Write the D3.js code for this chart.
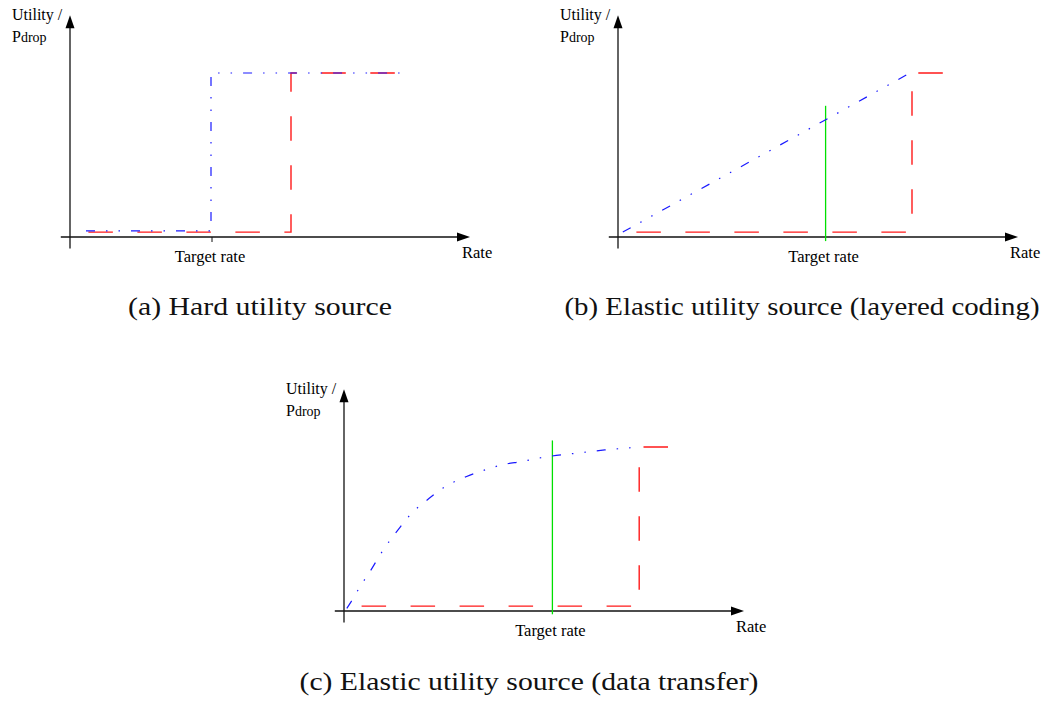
<!DOCTYPE html>
<html>
<head>
<meta charset="utf-8">
<script src="https://cdn.jsdelivr.net/npm/d3@7"></script>
<style>
  html, body { margin: 0; padding: 0; background: #fff; }
  svg { display: block; }
</style>
</head>
<body>
<svg id="chart" width="1053" height="701"></svg>
<script>
// ---- data (rate in arbitrary units 0..10, utility / drop probability 0..1) ----
const captions = [
  "(a) Hard utility source",
  "(b) Elastic utility source (layered coding)",
  "(c) Elastic utility source (data transfer)"
];
const axisYLabel = ["Utility /", "P", "drop"];
const axisXLabel = "Rate";
const targetLabel = "Target rate";
const targetRates = [3.55, 5.19, 5.21];

// utility curves (blue)
const utilityHard = [[0.4, 0.037], [3.525, 0.037], [3.525, 1.0], [8.42, 1.0]];
const utilityLayered = [[0.12, 0.03], [7.3, 1.0]];
const utilityTransfer = [
  [0.07, 0.016], [0.22, 0.073], [0.4, 0.148], [0.63, 0.233], [0.98, 0.372],
  [1.38, 0.504], [1.65, 0.585], [2.13, 0.687], [2.4, 0.738], [3.05, 0.819],
  [3.4, 0.85], [4.04, 0.896], [4.4, 0.91], [5.08, 0.941], [5.84, 0.963],
  [6.52, 0.982], [7.2, 0.996]
];

// drop probability step curves (red), from the high end down to low rates
const dropHard = [[8.12, 1.0], [5.525, 1.0], [5.525, 0.03], [0.4, 0.03]];
const dropLayered = [[8.12, 1.0], [7.35, 1.0], [7.35, 0.03], [0.375, 0.03]];
const dropTransfer = [[8.1, 1.0], [7.38, 1.0], [7.38, 0.03], [0.375, 0.03]];

// vertical target-rate markers (green), bottom/top in utility units
const markerLayered = [-0.025, 0.8];
const markerTransfer = [-0.02, 1.04];

// ---- layout ----
const panelOrigins = [[70, 237], [618, 237], [344, 611]];
const captionPos = [[260, 315, 264], [802, 315, 475], [529, 690, 459]];
const plotW = 400, plotH = 164;
const labelFont = "Liberation Serif";
const captionFont = "Liberation Serif";

const svg = d3.select("#chart");

const panels = [
  { utility: utilityHard, drop: dropHard, marker: null, tick: true, curve: d3.curveLinear },
  { utility: utilityLayered, drop: dropLayered, marker: markerLayered, tick: false, curve: d3.curveLinear },
  { utility: utilityTransfer, drop: dropTransfer, marker: markerTransfer, tick: false, curve: d3.curveMonotoneX }
];

panels.forEach((p, i) => {
  const [ox, oy] = panelOrigins[i];
  const x = d3.scaleLinear().domain([0, 10]).range([ox, ox + plotW]);
  const y = d3.scaleLinear().domain([0, 1]).range([oy, oy - plotH]);
  const g = svg.append("g");

  // axes with arrowheads
  const xTip = x(10), yTip = y(1.352);
  g.append("line").attr("x1", x(-0.23)).attr("x2", xTip - 6).attr("y1", oy).attr("y2", oy)
    .attr("stroke", "#111").attr("stroke-width", 1.3);
  g.append("line").attr("x1", ox).attr("x2", ox).attr("y1", y(-0.07)).attr("y2", yTip + 6)
    .attr("stroke", "#111").attr("stroke-width", 1.3);
  g.append("path")
    .attr("d", `M${xTip},${oy} L${xTip - 13},${oy - 4.5} L${xTip - 13},${oy + 4.5} Z`)
    .attr("fill", "#000");
  g.append("path")
    .attr("d", `M${ox},${yTip} L${ox - 4.5},${yTip + 13} L${ox + 4.5},${yTip + 13} Z`)
    .attr("fill", "#000");

  // tick at the target rate
  if (p.tick) {
    g.append("line").attr("x1", x(targetRates[i])).attr("x2", x(targetRates[i]))
      .attr("y1", oy).attr("y2", oy + 5).attr("stroke", "#111").attr("stroke-width", 1);
  }

  // target-rate marker
  if (p.marker) {
    g.append("line").attr("x1", x(targetRates[i])).attr("x2", x(targetRates[i]))
      .attr("y1", y(p.marker[0])).attr("y2", y(p.marker[1]))
      .attr("stroke", "#00e000").attr("stroke-width", 1.3);
  }

  // drop probability (red dashed)
  const stepLine = d3.line().x(d => x(d[0])).y(d => y(d[1]));
  g.append("path").attr("d", stepLine(p.drop))
    .attr("fill", "none").attr("stroke", "#ff1a1a").attr("stroke-width", 1.4)
    .attr("stroke-dasharray", "24.5,24.5");

  // utility (blue dash-dot-dot)
  const uLine = d3.line().x(d => x(d[0])).y(d => y(d[1])).curve(p.curve);
  g.append("path").attr("d", uLine(p.utility))
    .attr("fill", "none").attr("stroke", "#1a1aff").attr("stroke-width", 1.2)
    .attr("stroke-dasharray", "9,11,1.5,11,1.5,11");

  // labels
  g.append("text").style("font-family", labelFont).attr("x", ox - 58).attr("y", oy - 217)
    .attr("font-size", 16).text(axisYLabel[0]);
  const pl = g.append("text").style("font-family", labelFont).attr("x", ox - 58).attr("y", oy - 195)
    .attr("font-size", 16);
  pl.append("tspan").text(axisYLabel[1]);
  pl.append("tspan").attr("font-size", 14).text(axisYLabel[2]);

  g.append("text").style("font-family", labelFont).attr("x", xTip - 8).attr("y", oy + 21)
    .attr("font-size", 16.5).text(axisXLabel);
  g.append("text").style("font-family", labelFont).attr("x", x(targetRates[i]) - 2).attr("y", oy + 25)
    .attr("text-anchor", "middle").attr("font-size", 16.5).text(targetLabel);
});

// captions
captions.forEach((c, i) => {
  const [cx, cy, w] = captionPos[i];
  svg.append("text").style("font-family", captionFont).attr("fill", "#111")
    .attr("x", cx - w / 2).attr("y", cy)
    .attr("font-size", 26).attr("textLength", w).attr("lengthAdjust", "spacingAndGlyphs")
    .text(c);
});
</script>
</body>
</html>
